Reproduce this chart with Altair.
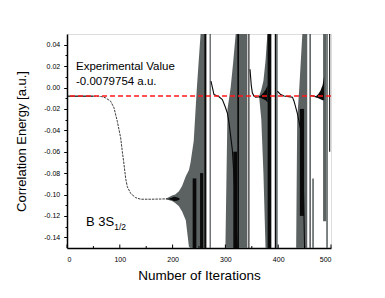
import altair as alt
import pandas as pd

# ---------------- data ----------------
EXP_VALUE = -0.0079754

# smooth convergence (first ~200 iterations)
curve1_x = [0, 20, 40, 50, 60, 66, 73.2, 82.7, 89.0, 95.3, 101.6, 104.8, 108.0, 111.1, 114.3,
            120.6, 130.1, 139.5, 160, 180, 195]
curve1_y = [-0.0081, -0.0081, -0.0081, -0.0081, -0.0082, -0.0085, -0.0097, -0.0129, -0.019, -0.0317,
            -0.047, -0.060, -0.072, -0.085, -0.0928, -0.099, -0.103, -0.1044, -0.1044, -0.1042, -0.1040]

# later re-convergence segments
curve2_x = [272.7, 278.4, 287.9, 294.2, 299.3, 303.7, 306.8, 310.0, 313.1, 316.5, 319.5, 322.5]
curve2_y = [0.006, -0.0066, -0.0087, -0.0113, -0.0175, -0.0238, -0.033, -0.0457, -0.058, -0.085, -0.115, -0.15]
curve3_x = [346.6, 349, 351, 354, 357.3, 362, 366.8]
curve3_y = [0.017, 0.002, -0.005, -0.008, -0.009, -0.0088, -0.0085]
curve4_x = [398.4, 404.7, 411, 420, 427, 430, 436, 442.6, 445.7, 448, 450]
curve4_y = [-0.0035, -0.0066, -0.008, -0.0085, -0.009, -0.0128, -0.0238, -0.0394, -0.058, -0.1, -0.15]
curve5_x = [462, 466, 470, 474]
curve5_y = [-0.0075, -0.008, -0.0085, -0.009]

# envelopes of the dense oscillation (gray)
g1_x = [187, 199, 205, 212, 218, 225, 231, 234, 240, 246, 253, 261]
g1_hi = [-0.1040, -0.1010, -0.1000, -0.097, -0.092, -0.083, -0.077, -0.070, -0.050, 0.000, 0.050, 0.050]
g1_lo = [-0.1044, -0.1060, -0.108, -0.111, -0.116, -0.124, -0.149, -0.150, -0.150, -0.150, -0.150, -0.150]
g2_x = [300, 304, 310, 315, 319.5, 341.5]
g2_hi = [-0.15, -0.02, 0.0, 0.025, 0.05, 0.05]
g2_lo = [-0.15, -0.15, -0.15, -0.15, -0.15, -0.15]
g3_x = [364, 368, 372, 376, 379.5, 381]
g3_hi = [-0.008, -0.002, 0.006, 0.025, 0.05, 0.05]
g3_lo = [-0.009, -0.03, -0.08, -0.15, -0.15, -0.15]
g4_x = [434, 436, 440, 445.7, 455]
g4_hi = [-0.15, -0.03, 0.0, 0.05, 0.05]
g4_lo = [-0.15, -0.15, -0.15, -0.15, -0.15]

# dense black clusters
b1_x = [192, 198, 203, 208, 213]
b1_hi = [-0.1040, -0.1030, -0.1022, -0.1025, -0.1035]
b1_lo = [-0.1044, -0.1052, -0.1060, -0.1058, -0.1050]
b3_x = [364, 368, 372, 376, 380]
b3_hi = [-0.0085, -0.007, -0.005, -0.002, 0.002]
b3_lo = [-0.009, -0.010, -0.011, -0.012, -0.014]
b5_x = [472, 476, 480, 484, 487]
b5_hi = [-0.008, -0.006, -0.003, 0.002, 0.010]
b5_lo = [-0.009, -0.010, -0.011, -0.012, -0.012]

# vertical bands (many overlapping diverging lines)
band_x0 = [238, 252, 260, 270, 315, 322.6, 343.5, 380, 393.5, 396, 441, 459, 464.5, 485, 491, 496.5]
band_x1 = [245, 258, 264, 272.5, 322, 325.8, 345.5, 387, 396, 399, 449, 462, 467.5, 491, 494, 498.5]
band_lo = [-0.15, -0.15, -0.15, -0.15, -0.15, -0.15, -0.15, -0.15, -0.15, -0.15, -0.12, -0.15, -0.15, -0.125, -0.15, -0.06]
band_hi = [-0.085, -0.08, 0.05, 0.05, -0.06, 0.05, 0.05, 0.05, 0.05, 0.05, -0.02, 0.05, -0.085, 0.05, 0.05, 0.05]
band_shade = ["black", "black", "black", "gray", "black", "black", "black", "black", "black", "gray",
              "black", "gray", "gray", "gray", "gray", "black"]

x_major = [0, 100, 200, 300, 400, 500]
x_minor = [50, 150, 250, 350, 450]
y_ticks = [-0.14, -0.13, -0.12, -0.11, -0.10, -0.09, -0.08, -0.07, -0.06, -0.05, -0.04,
           -0.03, -0.02, -0.01, 0.0, 0.01, 0.02, 0.03, 0.04]

ann_text = ["Experimental Value", "-0.0079754 a.u."]
ann_x = [17, 17]
ann_y = [0.0159, 0.0028]
state_text, state_x, state_y = ["B 3S"], [36], [-0.1295]
sub_text, sub_x, sub_y = ["1/2"], [89.5], [-0.1335]

GRAY = "#5c6262"
BLACK = "#0a0a0a"
FONT = "Liberation Sans"

# ---------------- frames ----------------
def env_frame(parts):
    rows = []
    for name, xs_, his, los, shade in parts:
        for x, h, l in zip(xs_, his, los):
            rows.append({"grp": name, "x": x, "hi": h, "lo": l, "shade": shade})
    return pd.DataFrame(rows)

env_df = env_frame([
    ("g1", g1_x, g1_hi, g1_lo, "gray"), ("g2", g2_x, g2_hi, g2_lo, "gray"),
    ("g3", g3_x, g3_hi, g3_lo, "gray"), ("g4", g4_x, g4_hi, g4_lo, "gray"),
])
blk_df = env_frame([
    ("b1", b1_x, b1_hi, b1_lo, "black"), ("b3", b3_x, b3_hi, b3_lo, "black"),
    ("b5", b5_x, b5_hi, b5_lo, "black"),
])
band_df = pd.DataFrame({"x0": band_x0, "x1": band_x1, "lo": band_lo, "hi": band_hi, "shade": band_shade})

c1 = pd.DataFrame({"x": curve1_x, "y": curve1_y})
c1_solid = c1[c1.x <= 50]
c1_dash = c1[c1.x >= 50]
seg_rows = []
for name, xs_, ys_ in [("c2", curve2_x, curve2_y), ("c3", curve3_x, curve3_y),
                       ("c4", curve4_x, curve4_y), ("c5", curve5_x, curve5_y)]:
    for x, y in zip(xs_, ys_):
        seg_rows.append({"seg": name, "x": x, "y": y})
seg_df = pd.DataFrame(seg_rows)

xs = alt.Scale(domain=[0, 500], nice=False)
ys = alt.Scale(domain=[-0.15, 0.05], nice=False, zero=False)
shade_scale = alt.Scale(domain=["gray", "black"], range=[GRAY, BLACK])

is_major = "abs(round(datum.value*100)) % 2 == 0"

x_axis = alt.Axis(values=x_major, tickCount=50, format="d", title="Number of Iterations", tickSize=0,
                  labelFontSize=7, labelPadding=7, titleFontSize=13.5, titlePadding=6,
                  labelFont=FONT, titleFont=FONT, titleFontWeight="normal", labelOverlap=False,
                  domainColor="black", domainWidth=1.5, grid=False, labelColor="black", titleColor="black")
y_axis = alt.Axis(values=y_ticks, tickCount=50, title="Correlation Energy [a.u.]",
                  labelExpr=f"{is_major} ? ((datum.value < -0.0001 ? '-' : '') + format(abs(datum.value), '.2f')) : ''",
                  tickSize={"condition": {"test": is_major, "value": 3.3}, "value": 2},
                  tickColor="black", tickWidth=1, labelOverlap=False,
                  labelFontSize=7, labelPadding=4, titleFontSize=13, titlePadding=15,
                  labelFont=FONT, titleFont=FONT, titleFontWeight="normal",
                  domainColor="black", domainWidth=1.5, grid=False, labelColor="black", titleColor="black")

gray_area = alt.Chart(env_df).mark_area(color=GRAY, clip=True, interpolate="linear").encode(
    x=alt.X("x:Q", scale=xs, axis=x_axis), y=alt.Y("hi:Q", scale=ys, axis=y_axis), y2="lo:Q", detail="grp:N")
bands = alt.Chart(band_df).mark_rect(clip=True).encode(
    x="x0:Q", x2="x1:Q", y="lo:Q", y2="hi:Q",
    color=alt.Color("shade:N", scale=shade_scale, legend=None))
black_area = alt.Chart(blk_df).mark_area(color=BLACK, clip=True).encode(
    x="x:Q", y="hi:Q", y2="lo:Q", detail="grp:N")
line_solid = alt.Chart(c1_solid).mark_line(color=BLACK, strokeWidth=1.2).encode(x="x:Q", y="y:Q")
line_dash = alt.Chart(c1_dash).mark_line(color="#3a3a3a", strokeWidth=1, strokeDash=[2.5, 1]).encode(x="x:Q", y="y:Q")
segs = alt.Chart(seg_df).mark_line(color=BLACK, strokeWidth=1.1, clip=True).encode(x="x:Q", y="y:Q", detail="seg:N")
exp_line = alt.Chart(pd.DataFrame({"y": [EXP_VALUE]})).mark_rule(
    color="#ff1a1a", strokeWidth=1.4, strokeDash=[5, 3]).encode(y="y:Q")

# inward x ticks
tick_major = alt.Chart(pd.DataFrame({"x": x_major})).mark_rule(color="black", strokeWidth=1).encode(
    x="x:Q", y=alt.value(214), y2=alt.value(210.5))
tick_minor = alt.Chart(pd.DataFrame({"x": x_minor})).mark_rule(color="black", strokeWidth=1).encode(
    x="x:Q", y=alt.value(214), y2=alt.value(212))

ann = alt.Chart(pd.DataFrame({"t": ann_text, "x": ann_x, "y": ann_y})).mark_text(
    align="left", baseline="alphabetic", font=FONT, fontSize=11.5, color="black").encode(
    x="x:Q", y="y:Q", text="t:N")
state = alt.Chart(pd.DataFrame({"t": state_text, "x": state_x, "y": state_y})).mark_text(
    align="left", baseline="alphabetic", font=FONT, fontSize=13, color="black").encode(
    x="x:Q", y="y:Q", text="t:N")
sub = alt.Chart(pd.DataFrame({"t": sub_text, "x": sub_x, "y": sub_y})).mark_text(
    align="left", baseline="alphabetic", font=FONT, fontSize=8.5, color="black").encode(
    x="x:Q", y="y:Q", text="t:N")

chart = alt.layer(
    gray_area, bands, black_area, line_solid, line_dash, segs, exp_line,
    tick_major, tick_minor, ann, state, sub
).properties(
    width=264, height=214,
    padding={"left": 7, "top": 26, "right": 5, "bottom": 5},
).configure_view(stroke="black", strokeWidth=1.5).configure_axis(labelOverlap=False).configure(background="white")

chart.save("out.html", embed_options={"renderer": "svg", "actions": False})
